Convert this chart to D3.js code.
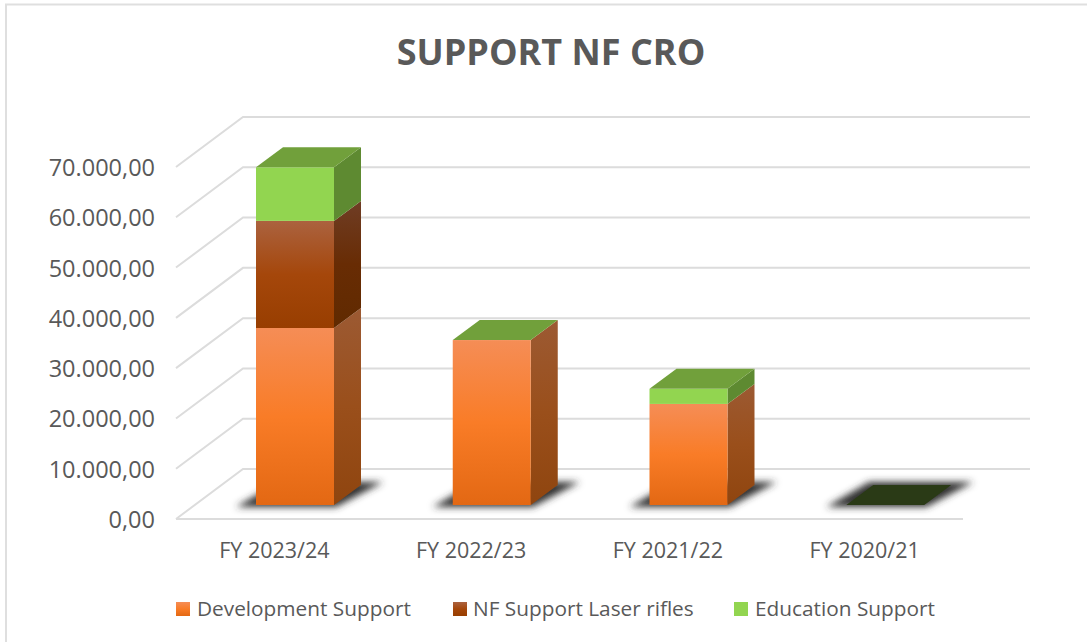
<!DOCTYPE html>
<html><head><meta charset="utf-8">
<script src="https://cdn.jsdelivr.net/npm/d3@7"></script>
<style>html,body{margin:0;padding:0;background:#fff}svg{display:block}text{font-family:"Open Sans",sans-serif;fill:#595959}</style>
</head><body><div id="c"></div>
<script>
const categories = ["FY 2023/24","FY 2022/23","FY 2021/22","FY 2020/21"];
const seriesNames = ["Development Support","NF Support Laser rifles","Education Support"];
const developmentSupport = [35200,32800,20100,0];
const nfSupportLaser = [21300,0,0,0];
const educationSupport = [10650,0,3000,0];
const yTicks = [0,10000,20000,30000,40000,50000,60000,70000];
const tickLabel = d => d3.format(",.2f")(d).replace(/,/g,"#").replace(".",",").replace(/#/g,".");

const W=1087,H=642;
const svg=d3.select("#c").append("svg").attr("width",W).attr("height",H);
const defs=svg.append("defs");
function grad(id,stops){const g=defs.append("linearGradient").attr("id",id).attr("x1",0).attr("y1",0).attr("x2",0).attr("y2",1);
 stops.forEach(s=>g.append("stop").attr("offset",s[0]).attr("stop-color",s[1]));}
grad("devF",[[0,"#f58d56"],[.5,"#f97c27"],[1,"#e36813"]]);
grad("devS",[[0,"#9c5a33"],[.5,"#9a4f1b"],[1,"#8f450f"]]);
grad("nfF",[[0,"#ab623f"],[.5,"#a5470b"],[1,"#983e00"]]);
grad("nfS",[[0,"#6f3d25"],[.5,"#682c04"],[1,"#602a00"]]);
defs.append("filter").attr("id","blur").attr("x","-20%").attr("y","-40%").attr("width","140%").attr("height","180%")
  .append("feGaussianBlur").attr("stdDeviation",3.5);

const y=d3.scaleLinear().domain([0,70000]).range([519,167]);
const x=d3.scaleBand().domain(categories).range([176,963]).paddingInner(0).paddingOuter(0);
const backDx=67, backDy=-50, backEnd=1030;

svg.append("path").attr("fill","none").attr("stroke","#dfdfdf").attr("stroke-width",2)
  .attr("d",d3.line()([[6,H],[6,4.5],[W,4.5]]));

const gridCol="#dcdcdc";
const grid=svg.append("g").attr("fill","none").attr("stroke",gridCol).attr("stroke-width",2);
yTicks.forEach(t=>{
  const v=y(t);
  grid.append("path").attr("d",d3.line()([[x.range()[0],v],[x.range()[0]+backDx,v+backDy],[backEnd,v+backDy]]));
});
grid.append("path").attr("d",d3.line()([[x.range()[0],y(0)],[x.range()[1],y(0)]]));

svg.append("g").selectAll("text").data(yTicks).join("text")
  .attr("x",155).attr("y",d=>y(d)+9).attr("text-anchor","end").attr("font-size",23.5).text(tickLabel);

svg.append("g").selectAll("text").data(categories).join("text")
  .attr("x",d=>x(d)+x.bandwidth()/2).attr("y",558).attr("text-anchor","middle").attr("font-size",21.5).text(d=>d);

svg.append("text").attr("x",551).attr("y",65).attr("text-anchor","middle").attr("font-size",36).attr("font-weight",700).text("SUPPORT NF CRO");

// 3D bars
const barW=78, dx=27, dy=-20, base=505, barOff=80;
const h=v=>y(0)-y(v);
const poly=pts=>d3.line()(pts)+"Z";
const shadows=svg.append("g").attr("filter","url(#blur)");
const bars=svg.append("g");
categories.forEach((c,i)=>{
  const x0=x(c)+barOff, x1=x0+barW;
  shadows.append("path").attr("fill","#333333").attr("d",poly([[x0-20,base+2],[x1+2,base+2],[x1+dx+22,base+dy-3],[x0+dx-4,base+dy-3]]));
  let yb=base;
  const vals=[developmentSupport[i],nfSupportLaser[i],educationSupport[i]];
  const total=d3.sum(vals);
  const fills=["url(#devF)","url(#nfF)","#92d550"], sides=["url(#devS)","url(#nfS)","#5e8a31"];
  vals.forEach((v,k)=>{
    if(v<=0) return;
    const t=yb-h(v);
    bars.append("path").attr("fill",sides[k]).attr("d",poly([[x1,yb],[x1+dx,yb+dy],[x1+dx,t+dy],[x1,t]]));
    bars.append("rect").attr("x",x0).attr("y",t).attr("width",barW).attr("height",yb-t).attr("fill",fills[k]);
    yb=t;
  });
  bars.append("path").attr("fill",total>0?"#71a03b":"#2a3a16")
    .attr("d",poly([[x0,yb],[x1,yb],[x1+dx,yb+dy],[x0+dx,yb+dy]]));
});

// legend
const legendX=[176,453,734], legendTx=[197,473,755];
const lg=svg.append("g");
seriesNames.forEach((n,i)=>{
  lg.append("rect").attr("x",legendX[i]).attr("y",602).attr("width",14).attr("height",14).attr("fill",["url(#devF)","url(#nfF)","#92d550"][i]);
  lg.append("text").attr("x",legendTx[i]).attr("y",616).attr("font-size",20.8).text(n);
});
</script></body></html>
